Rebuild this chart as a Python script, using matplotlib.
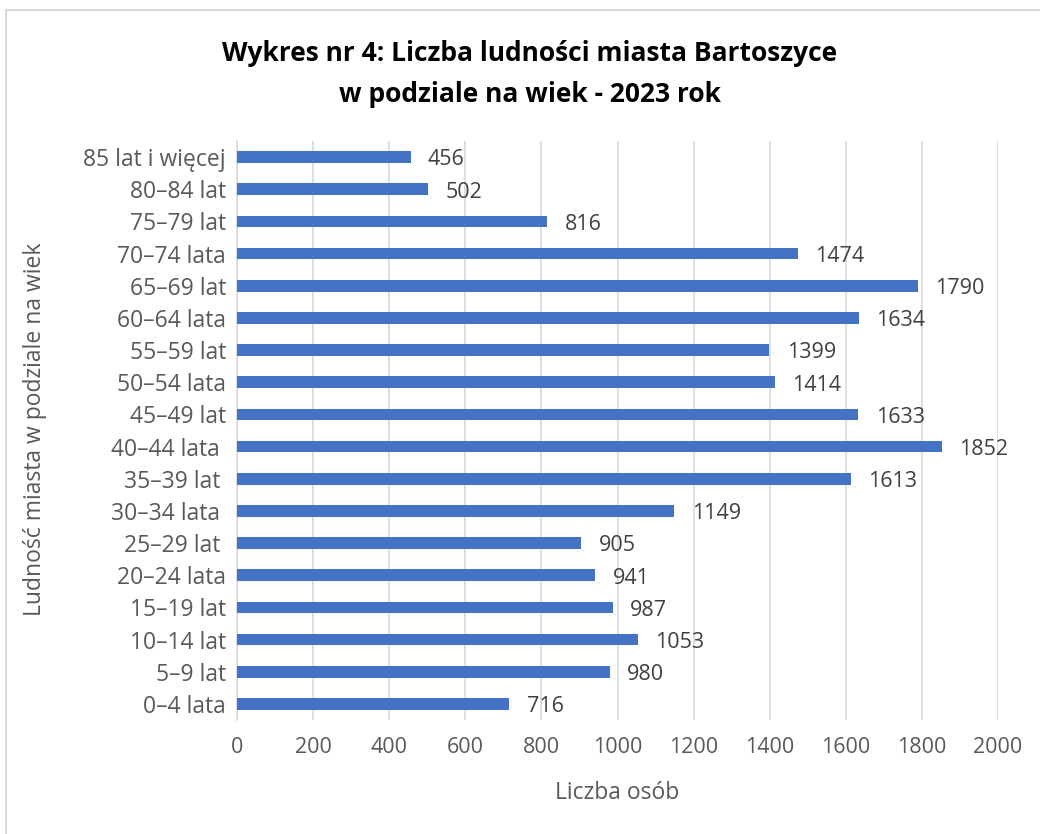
import matplotlib
matplotlib.use("Agg")
import matplotlib.pyplot as plt
from matplotlib.patches import Rectangle

categories = ["0–4 lata", "5–9 lat", "10–14 lat", "15–19 lat", "20–24 lata",
              "25–29 lat ", "30–34 lata ", "35–39 lat ", "40–44 lata ", "45–49 lat",
              "50–54 lata", "55–59 lat", "60–64 lata", "65–69 lat", "70–74 lata",
              "75–79 lat", "80–84 lat", "85 lat i więcej"]
values = [716, 980, 1053, 987, 941, 905, 1149, 1613, 1852, 1633,
          1414, 1399, 1634, 1790, 1474, 816, 502, 456]
xticks = [0, 200, 400, 600, 800, 1000, 1200, 1400, 1600, 1800, 2000]

title = "Wykres nr 4: Liczba ludności miasta Bartoszyce\nw podziale na wiek - 2023 rok"
xlabel = "Liczba osób"
ylabel = "Ludność miasta w podziale na wiek"

plt.rcParams['font.family'] = ['Open Sans', 'DejaVu Sans']

W, H = 1040, 834
fig = plt.figure(figsize=(W/100, H/100), dpi=100)
fig.patch.set_facecolor("white")
fig.add_artist(Rectangle((6/W, -0.1), 1.2, 1 - 9.5/H + 0.1, transform=fig.transFigure,
                         fill=False, edgecolor="#D9D9D9", linewidth=1.5))

ax = fig.add_axes([237/W, 1 - 720/H, (998-237)/W, (720-141)/H])
y = list(range(len(categories)))
ax.barh(y, values, height=0.36, color="#4472C4", zorder=3)
ax.set_xlim(0, 2000)
ax.set_ylim(-0.5, len(categories) - 0.5)
ax.set_xticks(xticks)
ax.set_xticklabels([str(t) for t in xticks], fontsize=15.5, color="#595959")
ax.set_yticks(y)
ax.set_yticklabels(categories, fontsize=16.5, color="#595959")
ax.tick_params(axis="both", length=0)
ax.tick_params(axis="x", pad=12)
ax.tick_params(axis="y", pad=8)
ax.grid(axis="x", color="#D9D9D9", linewidth=1.2, zorder=0)
for s in ["top", "right", "bottom"]:
    ax.spines[s].set_visible(False)
ax.spines["left"].set_color("#D9D9D9")
ax.spines["left"].set_linewidth(1.2)

for yi, v in zip(y, values):
    ax.annotate(str(v), (v, yi), xytext=(12.5, -2), textcoords="offset points",
                ha="left", va="center", fontsize=15.5, color="#404040")

fig.text(617/W, 1 - 793/H, xlabel, ha="center", va="center", fontsize=16.5, color="#595959")
fig.text(35/W, 1 - 429/H, ylabel, ha="center", va="center", rotation=90,
         fontsize=16.5, color="#595959")

fig.text(530/W, 1 - 74/H, title, ha="center", va="center", fontsize=19,
         fontweight="bold", color="black", linespacing=1.7)

fig.savefig("out.png", dpi=100, facecolor="white")
